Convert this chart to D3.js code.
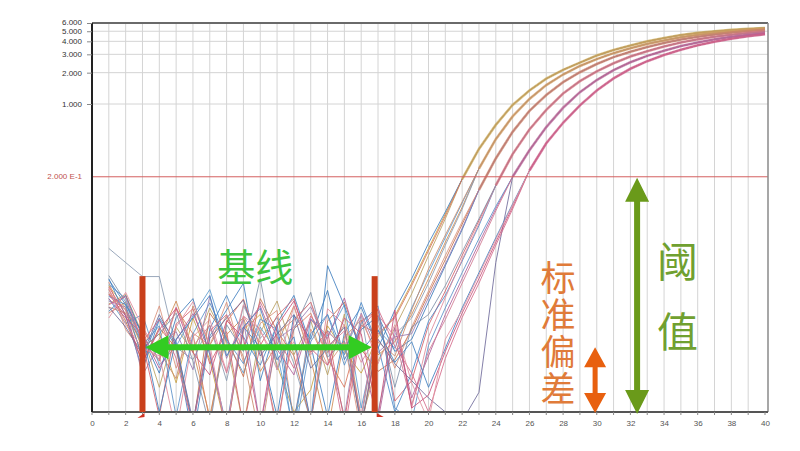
<!DOCTYPE html>
<html>
<head>
<meta charset="utf-8">
<script src="https://cdn.jsdelivr.net/npm/d3@7"></script>
<style>
  body { margin: 0; background: #fff; }
  svg { display: block; font-family: "Liberation Sans", Arial, sans-serif; }
</style>
</head>
<body>
<div id="chart"></div>
<script>
// ---- data ----
var cycles = [1,2,3,4,5,6,7,8,9,10,11,12,13,14,15,16,17,18,19,20,
              21,22,23,24,25,26,27,28,29,30,31,32,33,34,35,36,37,38,39,40];

var xTickLabels = [0,2,4,6,8,10,12,14,16,18,20,22,24,26,28,30,32,34,36,38,40];
var yTickValues = [1, 2, 3, 4, 5, 6];
var threshold = 0.2;
var baselineStart = 3, baselineEnd = 16.8;

// first cycle of the shared (plateau) part of each group
var lateStart = [22, 23, 23, 24, 25, 26];

// shared amplification part of each group, from lateStart to cycle 40
var lateG1 = [0.19,0.37,0.63,0.98,1.35,1.75,2.13,2.5,2.92,3.3,3.65,4.0,4.3,4.6,4.82,5.0,5.15,5.28,5.38];
var lateG2 = [0.24,0.46,0.76,1.12,1.52,1.92,2.32,2.7,3.08,3.43,3.78,4.08,4.38,4.62,4.82,4.98,5.13,5.28];
var lateG3 = [0.15,0.3,0.54,0.86,1.22,1.62,2.02,2.42,2.82,3.18,3.52,3.86,4.16,4.42,4.65,4.85,5.02,5.18];
var lateG4 = [0.165,0.33,0.57,0.88,1.26,1.66,2.06,2.46,2.86,3.22,3.57,3.9,4.18,4.43,4.63,4.82,4.98];
var lateG5 = [0.2,0.36,0.6,0.92,1.3,1.7,2.12,2.52,2.9,3.25,3.6,3.9,4.18,4.42,4.62,4.8];
var lateG6 = [0.23,0.42,0.66,0.97,1.35,1.76,2.18,2.58,2.96,3.32,3.66,3.97,4.24,4.48,4.68];

// baseline noise + early rise of each replicate, from cycle 1
var earlyG1 = [
  [0.018,0.011,0.0045,0.0062,0.0021,0.0088,0.0035,0.0007,0.0068,0.0095,0.0031,0.0011,0.0018,0.0074,0.0042,0.0026,0.0058,0.0092,0.019,0.041,0.088],
  [0.012,0.0148,0.0061,0.0019,0.0072,0.0041,0.011,0.0052,0.0008,0.0064,0.0128,0.0039,0.0083,0.0025,0.0096,0.0009,0.0034,0.0071,0.015,0.035,0.079],
  [0.021,0.0092,0.0028,0.0085,0.0046,0.0006,0.0059,0.0105,0.019,0.0022,0.0078,0.0145,0.0048,0.001,0.0063,0.0112,0.0045,0.0105,0.021,0.046,0.092],
  [0.0098,0.0125,0.0052,0.0034,0.0108,0.0062,0.0009,0.0081,0.0134,0.0045,0.0008,0.0069,0.0098,0.0036,0.0019,0.0075,0.0062,0.0088,0.018,0.039,0.084]
];
var earlyG2 = [
  [0.015,0.0105,0.0038,0.0055,0.0128,0.0043,0.001,0.0061,0.0089,0.0027,0.0049,0.0115,0.0036,0.0007,0.0058,0.0084,0.0039,0.0052,0.0095,0.021,0.047,0.102],
  [0.0135,0.0078,0.0095,0.0031,0.0047,0.0092,0.0165,0.0053,0.0026,0.0072,0.0041,0.0007,0.0087,0.0059,0.0118,0.0012,0.0068,0.0045,0.011,0.024,0.052,0.112],
  [0.041,0.03,0.022,0.022,0.0046,0.0035,0.0075,0.0022,0.0115,0.0056,0.0089,0.0032,0.0009,0.0067,0.0043,0.0095,0.0011,0.0061,0.0088,0.019,0.044,0.098],
  [0.0112,0.0098,0.0067,0.0042,0.0023,0.0115,0.0048,0.0093,0.0037,0.0006,0.0062,0.0085,0.0125,0.0041,0.0076,0.0008,0.0052,0.0038,0.0105,0.026,0.055,0.115]
];
var earlyG3 = [
  [0.0165,0.0082,0.0033,0.0071,0.0045,0.0008,0.0098,0.0057,0.0024,0.0135,0.0066,0.0038,0.0009,0.0082,0.0125,0.0044,0.0027,0.0035,0.0068,0.015,0.032,0.07],
  [0.0102,0.0145,0.0058,0.0026,0.0089,0.0135,0.0039,0.0008,0.0072,0.0046,0.001,0.0094,0.0055,0.0162,0.0035,0.0068,0.0092,0.0042,0.0055,0.0125,0.028,0.062],
  [0.0195,0.0068,0.0042,0.0115,0.0029,0.0063,0.0048,0.0125,0.0033,0.0078,0.0104,0.0009,0.0069,0.0031,0.0052,0.0007,0.0075,0.0029,0.0072,0.016,0.035,0.074],
  [0.0128,0.0112,0.0025,0.0048,0.0065,0.0028,0.0142,0.0036,0.0085,0.0008,0.0055,0.0072,0.0113,0.0046,0.001,0.0098,0.0041,0.0058,0.0062,0.0138,0.029,0.064]
];
var earlyG4 = [
  [0.0175,0.0095,0.0051,0.001,0.0077,0.0108,0.0032,0.0065,0.0008,0.0048,0.0092,0.0135,0.0041,0.0066,0.0009,0.0082,0.0105,0.0014,0.0022,0.0075,0.016,0.035,0.076],
  [0.0142,0.0118,0.0036,0.0088,0.0052,0.0008,0.0069,0.0145,0.0058,0.0031,0.0076,0.0009,0.0062,0.0095,0.0039,0.0124,0.0047,0.0011,0.0026,0.0082,0.0145,0.031,0.068],
  [0.0088,0.0155,0.0072,0.0039,0.0007,0.0058,0.0085,0.0027,0.0118,0.0065,0.0035,0.0052,0.0009,0.0108,0.0075,0.0033,0.0061,0.0092,0.0012,0.0058,0.0138,0.032,0.071],
  [0.0225,0.0125,0.0045,0.0062,0.0098,0.0034,0.0008,0.0076,0.0042,0.021,0.0028,0.0068,0.0155,0.0037,0.0053,0.0009,0.0088,0.0019,0.0072,0.0095,0.018,0.038,0.079]
];
var earlyG5 = [
  [0.0135,0.0088,0.0062,0.0029,0.0054,0.0097,0.0042,0.0007,0.0069,0.0115,0.0044,0.0025,0.0085,0.0056,0.0137,0.0039,0.0009,0.0071,0.0015,0.0038,0.0095,0.021,0.046,0.099],
  [0.0185,0.0135,0.0048,0.0074,0.001,0.0062,0.0123,0.0055,0.0032,0.0086,0.0068,0.0006,0.0052,0.0095,0.0031,0.0078,0.0115,0.0012,0.0009,0.0048,0.011,0.024,0.051,0.104],
  [0.0112,0.0072,0.0039,0.0095,0.0048,0.0009,0.0056,0.0088,0.0131,0.0038,0.0062,0.0095,0.0029,0.0045,0.0072,0.0008,0.0055,0.0032,0.0022,0.0015,0.0011,0.0009,0.0017,0.03],
  [0.0155,0.0105,0.0058,0.0035,0.0112,0.0047,0.0075,0.0026,0.0092,0.0051,0.0007,0.0083,0.0125,0.0047,0.0066,0.001,0.0094,0.0058,0.0013,0.0042,0.0085,0.019,0.042,0.094]
];
var earlyG6 = [
  [0.0148,0.0092,0.0033,0.0068,0.0109,0.0041,0.0025,0.0083,0.0057,0.0008,0.0074,0.0128,0.0045,0.0031,0.0088,0.0062,0.001,0.0105,0.0012,0.0016,0.0042,0.0098,0.021,0.047,0.103],
  [0.0205,0.0118,0.0064,0.0011,0.0055,0.0088,0.0145,0.0038,0.0072,0.0109,0.0035,0.0058,0.0009,0.028,0.0115,0.0042,0.0067,0.0033,0.0052,0.0019,0.0045,0.011,0.024,0.052,0.11],
  [0.0118,0.0142,0.0052,0.0085,0.0036,0.0008,0.0066,0.0095,0.0044,0.0125,0.0058,0.0029,0.0092,0.0054,0.0007,0.0071,0.0108,0.0047,0.0026,0.0011,0.0036,0.0089,0.019,0.044,0.098],
  [0.0168,0.0076,0.0045,0.0038,0.0072,0.0126,0.0049,0.0007,0.0092,0.0068,0.0028,0.0115,0.0039,0.0064,0.0048,0.0095,0.0032,0.0076,0.0021,0.0009,0.0055,0.0105,0.023,0.05,0.108]
];

var lateGroups = [lateG1, lateG2, lateG3, lateG4, lateG5, lateG6];
var earlyGroups = [earlyG1, earlyG2, earlyG3, earlyG4, earlyG5, earlyG6];

// colours
var replicateColors = [
  ["#c9a040", "#b8a060", "#3f7fc0", "#d8735a"],
  ["#d08a50", "#5b9bd0", "#8a9ab0", "#c98a6a"],
  ["#c8704a", "#3a78b8", "#d9907a", "#9a7ab0"],
  ["#d45f6a", "#4a88c8", "#e08a9a", "#7f8fa8"],
  ["#b0609a", "#5a90c8", "#6f6a9a", "#d07890"],
  ["#c8507a", "#3f7fc0", "#d46a8a", "#e0909f"]
];
var groupColors = ["#c8aa5a", "#cf9a60", "#c98068", "#d4707e", "#b76595", "#cc5a85"];

// set the dimensions and margins of the graph
var margin = {top: 23, right: 32, bottom: 39, left: 92},
    width = 676,
    height = 389;

var svg = d3.select("#chart")
  .append("svg")
    .attr("width", 800)
    .attr("height", 451)
  .append("g")
    .attr("transform", "translate(" + margin.left + "," + margin.top + ")");

var x = d3.scaleLinear().domain([0, 40]).range([0, 673]);
var y = d3.scaleLog().domain([0.0011, 6.0]).range([height, 0]);

svg.append("clipPath").attr("id", "plotclip")
  .append("rect").attr("width", width).attr("height", height);

// grid
svg.append("g").selectAll("line")
  .data(cycles.filter(function(c){ return c < 40; }))
  .enter().append("line")
    .attr("x1", function(c){ return x(c); })
    .attr("x2", function(c){ return x(c); })
    .attr("y1", 0).attr("y2", height)
    .style("stroke", "#d4d4d4").style("stroke-width", 1);

svg.append("g").selectAll("line")
  .data(yTickValues)
  .enter().append("line")
    .attr("x1", 0).attr("x2", width)
    .attr("y1", function(d){ return y(d); })
    .attr("y2", function(d){ return y(d); })
    .style("stroke", "#d4d4d4").style("stroke-width", 1);

// curves
var line = d3.line()
  .x(function(d){ return x(d.c); })
  .y(function(d){ return y(d.v); });

var curves = [];
earlyGroups.forEach(function(reps, g) {
  reps.forEach(function(early, r) {
    var pts = early.map(function(v, i){ return {c: cycles[i], v: v}; });
    lateGroups[g].forEach(function(v, j){ pts.push({c: lateStart[g] + j, v: v}); });
    curves.push({pts: pts, color: replicateColors[g][r]});
  });
});

var plot = svg.append("g").attr("clip-path", "url(#plotclip)");

plot.selectAll(".curve")
  .data(curves)
  .enter().append("path")
    .attr("class", "curve")
    .attr("d", function(d){ return line(d.pts); })
    .style("fill", "none")
    .style("stroke", function(d){ return d.color; })
    .style("stroke-width", 1)
    .style("opacity", 0.85);

// the replicate bundles above the threshold
plot.selectAll(".bundle")
  .data(lateGroups)
  .enter().append("path")
    .attr("class", "bundle")
    .attr("d", function(d, g){
      return line(d.map(function(v, j){ return {c: lateStart[g] + j, v: v}; }));
    })
    .style("fill", "none")
    .style("stroke", function(d, g){ return groupColors[g]; })
    .style("stroke-width", 2.6)
    .style("opacity", 0.75);

// threshold line
svg.append("line")
  .attr("x1", 0).attr("x2", width)
  .attr("y1", y(threshold)).attr("y2", y(threshold))
  .style("stroke", "#d46060").style("stroke-width", 1);

// frame
svg.append("line").attr("x1", 0).attr("x2", width).attr("y1", 0).attr("y2", 0)
  .style("stroke", "#6a6a6a").style("stroke-width", 2);
svg.append("line").attr("x1", width).attr("x2", width).attr("y1", 0).attr("y2", height)
  .style("stroke", "#8a8a8a").style("stroke-width", 1.5);
svg.append("line").attr("x1", 0).attr("x2", width).attr("y1", height).attr("y2", height)
  .style("stroke", "#555").style("stroke-width", 2);
svg.append("line").attr("x1", 0).attr("x2", 0).attr("y1", 0).attr("y2", height)
  .style("stroke", "#222").style("stroke-width", 2);

// X axis
var xAxis = svg.append("g")
  .attr("transform", "translate(0," + height + ")")
  .call(d3.axisBottom(x).tickValues(xTickLabels).tickSize(0).tickPadding(8));
xAxis.select(".domain").remove();
xAxis.selectAll("text").style("font-size", "8px").style("fill", "#555")
  .style("font-family", "'Liberation Sans', Arial, sans-serif");
svg.append("g").selectAll("line")
  .data([0].concat(cycles))
  .enter().append("line")
    .attr("x1", function(c){ return x(c); })
    .attr("x2", function(c){ return x(c); })
    .attr("y1", height).attr("y2", height + 3)
    .style("stroke", "#888").style("stroke-width", 1);

// Y axis
var yAxis = svg.append("g")
  .call(d3.axisLeft(y).tickValues(yTickValues).tickFormat(d3.format(".3f"))
    .tickSize(5).tickPadding(5));
yAxis.select(".domain").remove();
yAxis.selectAll("line").style("stroke", "#888");
yAxis.selectAll("text").style("font-size", "8px").style("fill", "#333")
  .style("font-family", "'Liberation Sans', Arial, sans-serif");
// the two top labels sit very close together
yAxis.selectAll("text").filter(function(d){ return d === 6; }).attr("y", -1.5);

svg.append("text")
  .attr("x", -10).attr("y", y(threshold)).attr("dy", "0.32em")
  .attr("text-anchor", "end")
  .style("font-size", "8px").style("fill", "#c0504d")
  .text("2.000 E-1");

// ---- annotations ----
function doubleArrow(x1, y1, x2, y2, shaft, headLen, headHalf) {
  var dx = x2 - x1, dy = y2 - y1, len = Math.sqrt(dx*dx + dy*dy);
  var ux = dx/len, uy = dy/len, nx = -uy, ny = ux;
  var s = shaft/2;
  function p(a, b){ return [x1 + ux*a + nx*b, y1 + uy*a + ny*b]; }
  var pts = [p(0,0), p(headLen, headHalf), p(headLen, s), p(len-headLen, s),
             p(len-headLen, headHalf), p(len, 0), p(len-headLen, -headHalf),
             p(len-headLen, -s), p(headLen, -s), p(headLen, -headHalf)];
  return "M" + pts.map(function(q){ return q[0].toFixed(1) + "," + q[1].toFixed(1); }).join("L") + "Z";
}

// baseline bars
[baselineStart, baselineEnd].forEach(function(c){
  svg.append("rect")
    .attr("x", x(c) - 3).attr("y", y(0.0222))
    .attr("width", 6).attr("height", height - y(0.0222))
    .style("fill", "#c9401c");
});
svg.append("path")
  .attr("d", "M" + (x(baselineStart) - 5) + "," + (height + 6) + "L" + (x(baselineStart) + 2) + "," + (height + 1) +
             "L" + (x(baselineStart) + 2) + "," + (height + 5) + "Z")
  .style("fill", "#d03020");
svg.append("path")
  .attr("d", "M" + (x(baselineEnd) + 2) + "," + (height + 1) + "L" + (x(baselineEnd) + 9) + "," + (height + 5) +
             "L" + (x(baselineEnd) + 2) + "," + (height + 5) + "Z")
  .style("fill", "#d03020");

// baseline arrow
svg.append("path")
  .attr("d", doubleArrow(x(baselineStart) + 3, y(0.0046), x(baselineEnd) - 3, y(0.0046), 6, 23, 12))
  .style("fill", "#33cc22");

svg.append("text")
  .attr("x", x(9.7)).attr("y", y(0.029))
  .attr("text-anchor", "middle").attr("dominant-baseline", "central")
  .style("font-family", "'Noto Sans CJK SC', sans-serif")
  .style("font-size", "38px").style("fill", "#3cc43c")
  .text("基线");

// threshold arrow
svg.append("path")
  .attr("d", doubleArrow(x(32.4), y(threshold) + 1, x(32.4), height + 2, 6, 24, 12))
  .style("fill", "#6a9a1a");

svg.append("text")
  .attr("x", x(34.8)).attr("y", y(0.0102))
  .attr("text-anchor", "middle")
  .style("writing-mode", "vertical-rl")
  .style("text-orientation", "upright")
  .style("letter-spacing", "29px")
  .style("font-family", "'Noto Sans CJK SC', sans-serif")
  .style("font-size", "41px").style("fill", "#70a030")
  .text("阈值");

// standard deviation arrow
svg.append("path")
  .attr("d", doubleArrow(x(29.9), y(0.0046), x(29.9), height + 1, 5, 20, 11))
  .style("fill", "#e8600f");

svg.append("text")
  .attr("x", x(27.7)).attr("y", y(0.0062))
  .attr("text-anchor", "middle")
  .style("writing-mode", "vertical-rl")
  .style("text-orientation", "upright")
  .style("letter-spacing", "2px")
  .style("font-family", "'Noto Sans CJK SC', sans-serif")
  .style("font-size", "35px").style("fill", "#e07b39")
  .text("标准偏差");
</script>
</body>
</html>
